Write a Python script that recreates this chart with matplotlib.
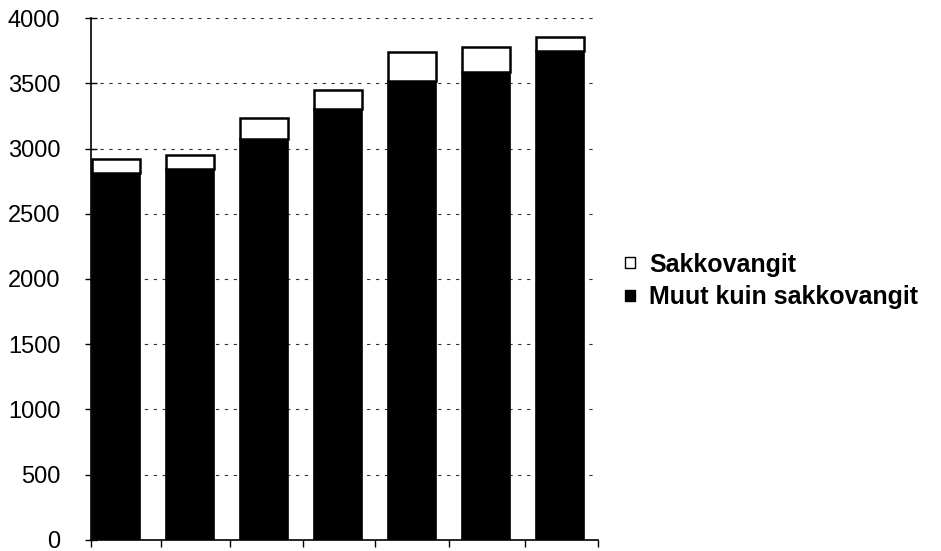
import matplotlib.pyplot as plt
import numpy as np
from matplotlib.patches import Patch

plt.rcParams['font.family'] = ['Liberation Sans', 'DejaVu Sans']

# vankimäärät, kaksi osaa per pylväs
muut = [2810, 2845, 3070, 3305, 3520, 3590, 3750]
sakko = [110, 105, 160, 145, 220, 190, 105]
y_ticks = [0, 500, 1000, 1500, 2000, 2500, 3000, 3500, 4000]

x = np.arange(len(muut))

fig = plt.figure(figsize=(9.41, 5.51), dpi=100, facecolor='white')
ax = fig.add_axes([0.0967, 0.02, 0.5388, 0.9473])

ax.bar(x, muut, width=0.65, color='black', edgecolor='black', linewidth=1.2, zorder=3)
ax.bar(x, sakko, width=0.65, bottom=muut, color='white', edgecolor='black',
       linewidth=1.8, zorder=3)

ax.set_ylim(0, 4000)
ax.set_xlim(-0.34, 6.51)
ax.set_yticks(y_ticks)
ax.set_yticklabels([str(v) for v in y_ticks], fontsize=17)
ax.set_xticks([-0.34, 0.6, 1.54, 2.52, 3.5, 4.5, 5.53, 6.51])
ax.set_xticklabels([])
ax.tick_params(axis='y', direction='inout', length=8, width=1, pad=18)
ax.tick_params(axis='x', direction='out', length=5, width=1)

ax.grid(axis='y', color='#333333', linestyle=(0, (3, 5)), linewidth=0.8, zorder=0)
for side in ('top', 'right'):
    ax.spines[side].set_visible(False)
ax.spines['left'].set_linewidth(1.2)
ax.spines['bottom'].set_linewidth(1.2)

handles = [Patch(facecolor='white', edgecolor='black', linewidth=1),
           Patch(facecolor='black', edgecolor='black', linewidth=1)]
fig.legend(handles, ['Sakkovangit', 'Muut kuin sakkovangit'],
           loc='center left', bbox_to_anchor=(0.64, 0.49), frameon=False,
           prop={'size': 18, 'weight': 'bold'}, handlelength=0.42,
           handleheight=0.28, handletextpad=0.55, labelspacing=0.35)

fig.savefig('out.png', dpi=100)
